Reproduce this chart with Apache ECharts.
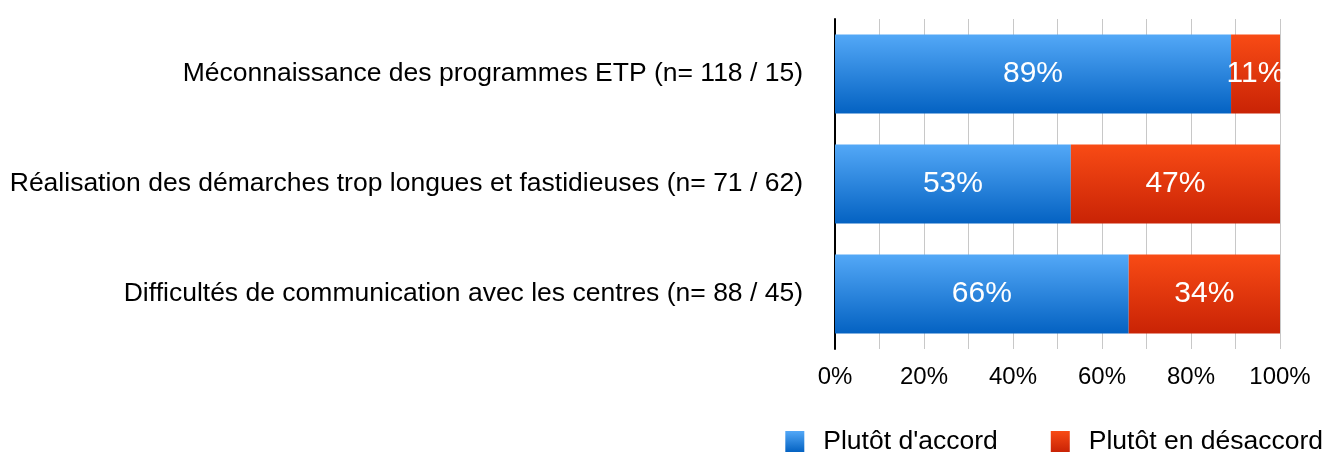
<!DOCTYPE html>
<html>
<head>
<meta charset="utf-8">
<script src="https://cdn.jsdelivr.net/npm/echarts@6/dist/echarts.min.js"></script>
<style>
html,body{margin:0;padding:0;background:#fff;}
#main{width:1328px;height:453px;}
</style>
</head>
<body>
<div id="main"></div>
<script>
let categories = [
    "Méconnaissance des programmes ETP (n= 118 / 15)",
    "Réalisation des démarches trop longues et fastidieuses (n= 71 / 62)",
    "Difficultés de communication avec les centres (n= 88 / 45)"
];
let accord     = [89, 53, 66];
let desaccord  = [11, 47, 34];
let seriesNames = ["Plutôt d'accord", "Plutôt en désaccord"];

let font = "'Liberation Sans', Arial, sans-serif";

// degrade vertical comme dans l'original
function grad(top, bottom){
    return new echarts.graphic.LinearGradient(0, 0, 0, 1, [
        {offset:0, color:top},
        {offset:1, color:bottom}
    ]);
}

let myChart = echarts.init(document.getElementById('main'));
myChart.setOption({
    animation:false,
    grid:{
        left:835,
        right:48,
        top:19,
        bottom:104
    },
    legend:{
        data:seriesNames,
        right:0,
        bottom:-7,
        icon:"rect",
        itemWidth:19,
        itemHeight:21,
        itemGap:53,
        textStyle:{
            fontFamily:font,
            fontSize:26.5,
            color:"#000",
            padding:[0, 0, 0, 14]
        }
    },
    xAxis:{
        type:"value",
        min:0,
        max:100,
        interval:10,
        axisLine:{show:false},
        axisTick:{show:false},
        splitLine:{
            lineStyle:{color:"#c8c8c8", width:1}
        },
        axisLabel:{
            margin:16,
            fontFamily:font,
            fontSize:24,
            color:"#000",
            formatter:function(v){
                return v % 20 === 0 ? v + "%" : "";
            }
        }
    },
    yAxis:{
        type:"category",
        inverse:true,
        data:categories,
        axisLine:{
            lineStyle:{color:"#000", width:2}
        },
        axisTick:{show:false},
        axisLabel:{
            margin:32,
            fontFamily:font,
            fontSize:26.5,
            color:"#000"
        }
    },
    series:[
        {
            name:seriesNames[0],
            type:"bar",
            stack:"total",
            barWidth:79,
            data:accord,
            itemStyle:{color:grad("#53a8f7", "#0462c2")},
            label:{
                show:true,
                position:"inside",
                formatter:"{c}%",
                fontFamily:font,
                fontSize:30,
                color:"#fff"
            }
        },
        {
            name:seriesNames[1],
            type:"bar",
            stack:"total",
            barWidth:79,
            data:desaccord,
            itemStyle:{color:grad("#f84b15", "#c92305")},
            label:{
                show:true,
                position:"inside",
                formatter:"{c}%",
                fontFamily:font,
                fontSize:30,
                color:"#fff"
            }
        }
    ]
});
</script>
</body>
</html>
